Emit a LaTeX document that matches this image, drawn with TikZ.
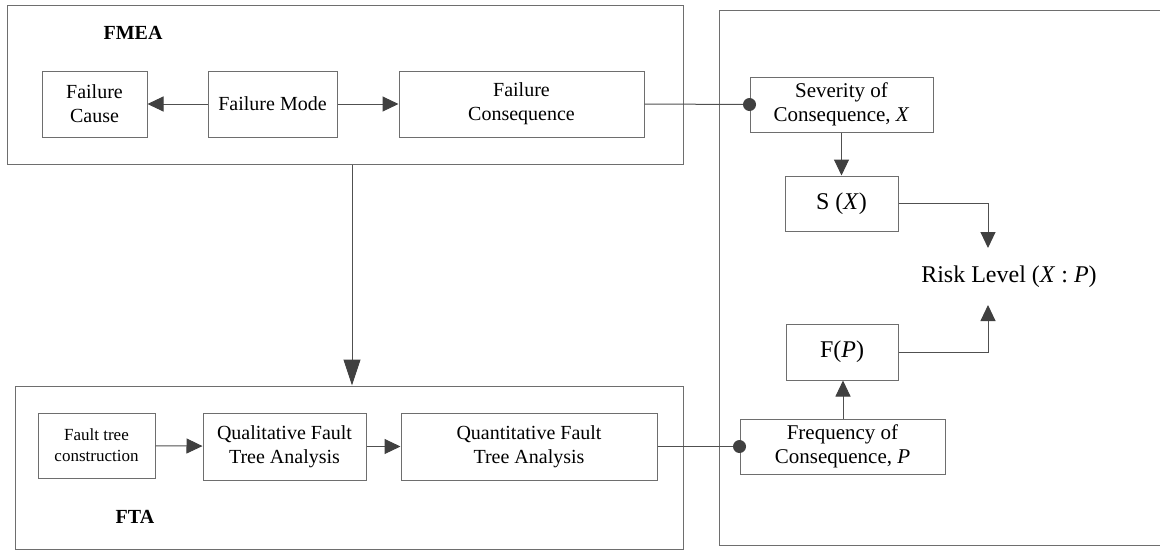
\documentclass[tikz,border=0pt]{standalone}
\usepackage{fontspec}
\setmainfont{Liberation Serif}
\usetikzlibrary{arrows.meta,calc}
\definecolor{edge}{HTML}{6E6E6E}
\definecolor{wire}{HTML}{505050}
\definecolor{tip}{HTML}{404040}
\begin{document}
\begin{tikzpicture}[x=1pt,y=-1pt,
  box/.style={draw=edge,line width=1pt,fill=white,inner sep=2pt,align=center,
    font=\fontsize{20}{24}\selectfont},
  smallbox/.style={box,font=\fontsize{17}{21}\selectfont},
  midbox/.style={box,font=\fontsize{21}{24}\selectfont},
  bigbox/.style={box,font=\fontsize{24}{27}\selectfont},
  group/.style={draw=edge,line width=1pt,inner sep=0pt},
  title/.style={font=\fontsize{20}{22}\selectfont\bfseries},
  link/.style={draw=wire,line width=1pt},
  arr/.style={link,-{Triangle[length=16pt,width=15pt,fill=tip,color=tip]}},
  bigarr/.style={link,-{Triangle[length=26pt,width=17pt,fill=tip,color=tip]}},
  dot/.style={fill=tip}]
\useasboundingbox (0,0) rectangle (1160,550);

% group frames
\node[group,minimum width=676pt,minimum height=159pt] (fmea) at (345,84.5) {};
\node[group,minimum width=668pt,minimum height=163pt] (fta) at (349,467.5) {};
\draw[group] (1165,10) -- (719,10) -- (719,545) -- (1165,545);

\node[title] (fmeat) at (133,33) {FMEA};
\node[title] (ftat) at (135,517) {FTA};

% FMEA blocks
\node[box,minimum width=105pt,minimum height=66pt] (cause) at (94.5,104) {Failure\\Cause};
\node[box,minimum width=129pt,minimum height=66pt] (mode) at (272.5,104) {Failure Mode};
\node[box,minimum width=245pt,minimum height=66pt] (cons) at (521.5,104) {Failure\\Consequence};

% FTA blocks
\node[smallbox,minimum width=117pt,minimum height=65pt] (build) at (96.5,445.5) {Fault tree\\construction};
\node[box,minimum width=163pt,minimum height=67pt] (qual) at (284.5,446.5) {Qualitative Fault\\Tree Analysis};
\node[box,minimum width=256pt,minimum height=67pt] (quant) at (529,446.5) {Quantitative Fault\\Tree Analysis};

% risk blocks
\node[midbox,minimum width=183pt,minimum height=55pt] (sev) at (841.5,104.5) {Severity of\\Consequence, \textit{X}};
\node[bigbox,minimum width=113pt,minimum height=55pt] (sx) at (841.5,203.5) {S (\textit{X})};
\node[bigbox,minimum width=112pt,minimum height=56pt] (fp) at (842,352) {F(\textit{P})};
\node[midbox,minimum width=205pt,minimum height=55pt] (freq) at (842.5,446.5) {Frequency of\\Consequence, \textit{P}};
\node[font=\fontsize{24}{27}\selectfont] (risk) at (1009,277) {Risk Level (\textit{X} : \textit{P})};
\coordinate (rtop) at (988,248);
\coordinate (rbot) at (988,305);

% connectors
\draw[arr] (mode) -- (cause);
\draw[arr] (mode) -- (cons);
\draw[arr] (build) -- (qual);
\draw[arr] (qual) -- (quant);
\draw[bigarr] ([xshift=7pt]fmea.south) -- ([xshift=3pt]fta.north);

\draw[link] (cons.east) -- (sev.west);
\fill[dot] (sev.west) circle (6.5);
\draw[link] (quant.east) -- (freq.west);
\fill[dot] (freq.west) circle (6.5);

\draw[arr] (sev) -- (sx);
\draw[arr] ([xshift=0.5pt]freq.north) -- ([xshift=1pt]fp.south);
\draw[arr] (sx.east) -| (rtop);
\draw[arr] (fp.east) -| (rbot);
\end{tikzpicture}
\end{document}
